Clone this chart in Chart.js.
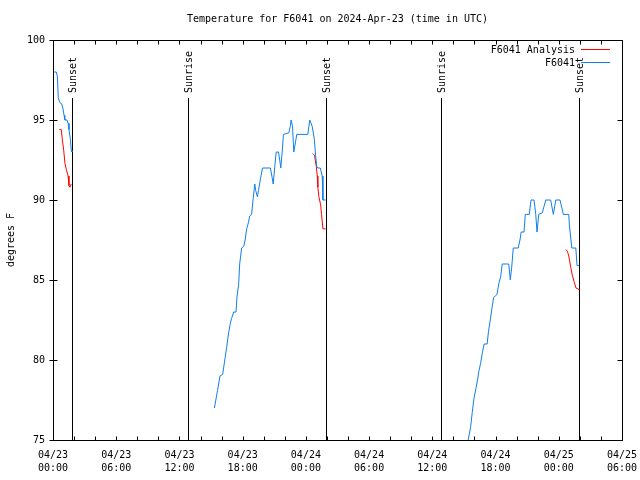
<!DOCTYPE html>
<html>
<head>
<meta charset="utf-8">
<script src="https://cdn.jsdelivr.net/npm/chart.js@4.4.1/dist/chart.umd.min.js"></script>
<style>
  html, body { margin: 0; padding: 0; background: #fff; }
  #wrap { width: 640px; height: 480px; }
</style>
</head>
<body>
<div id="wrap"><canvas id="chart" width="640" height="480"></canvas></div>
<script>
// ---------------- Data ----------------
const START_DAY = 23;   // x axis is hours since 04/23 00:00 UTC
const X_TICKS = ["04/23 00:00", "04/23 06:00", "04/23 12:00", "04/23 18:00", "04/24 00:00",
                 "04/24 06:00", "04/24 12:00", "04/24 18:00", "04/25 00:00", "04/25 06:00"];
const Y_TICKS = [75, 80, 85, 90, 95, 100];

// station observations (null = no data)
const obsTimes = [
  "04/23 00:00", "04/23 00:19", "04/23 00:25", "04/23 00:30", "04/23 00:38", "04/23 00:50",
  "04/23 00:57", "04/23 01:03", "04/23 01:07", "04/23 01:20", "04/23 01:26", "04/23 01:31",
  "04/23 01:39", "04/23 01:44", "04/23 01:48",
  "04/23 08:00",
  "04/23 15:19", "04/23 15:37", "04/23 15:51", "04/23 16:06", "04/23 16:21", "04/23 16:29",
  "04/23 16:40", "04/23 16:50", "04/23 16:57", "04/23 17:09", "04/23 17:22", "04/23 17:28",
  "04/23 17:37", "04/23 17:43", "04/23 17:54", "04/23 18:06", "04/23 18:14", "04/23 18:23",
  "04/23 18:33", "04/23 18:40", "04/23 18:51", "04/23 19:00", "04/23 19:09", "04/23 19:14",
  "04/23 19:24", "04/23 19:30", "04/23 19:41", "04/23 19:53", "04/23 20:38", "04/23 20:48",
  "04/23 20:54", "04/23 21:03", "04/23 21:11", "04/23 21:24", "04/23 21:31", "04/23 21:37",
  "04/23 21:45", "04/23 21:52", "04/23 22:23", "04/23 22:31", "04/23 22:36", "04/23 22:44",
  "04/23 22:51", "04/23 22:59", "04/23 23:08", "04/24 00:11", "04/24 00:22", "04/24 00:36",
  "04/24 00:48", "04/24 00:55", "04/24 01:02", "04/24 01:08", "04/24 01:22", "04/24 01:33",
  "04/24 01:37", "04/24 01:52",
  "04/24 08:00",
  "04/24 15:11", "04/24 15:24", "04/24 15:38", "04/24 15:47", "04/24 15:57", "04/24 16:08",
  "04/24 16:18", "04/24 16:25", "04/24 16:35", "04/24 16:44", "04/24 16:55", "04/24 17:12",
  "04/24 17:20", "04/24 17:30", "04/24 17:39", "04/24 17:49", "04/24 17:58", "04/24 18:08",
  "04/24 18:19", "04/24 18:29", "04/24 18:38", "04/24 19:15", "04/24 19:24", "04/24 19:32",
  "04/24 19:41", "04/24 20:09", "04/24 20:19", "04/24 20:26", "04/24 20:42", "04/24 20:49",
  "04/24 21:12", "04/24 21:22", "04/24 21:39", "04/24 21:49", "04/24 21:56", "04/24 22:06",
  "04/24 22:26", "04/24 22:36", "04/24 22:46", "04/24 23:14", "04/24 23:29", "04/24 23:43",
  "04/25 00:07", "04/25 00:26", "04/25 00:57", "04/25 01:00", "04/25 01:14", "04/25 01:37",
  "04/25 01:44", "04/25 01:57"
];
const obsTemps = [
  98.0, 98.0, 97.7, 96.4, 96.1, 96.0,
  95.7, 95.3, 95.0, 95.0, 94.8, 94.4,
  93.8, 93.1, 93.0,
  null,
  77.0, 78.1, 79.0, 79.1, 80.2, 80.8,
  81.7, 82.3, 82.6, 83.0, 83.0, 84.0,
  84.7, 86.0, 87.0, 87.1, 87.5, 88.2,
  88.6, 89.0, 89.1, 90.1, 91.0, 90.6,
  90.2, 90.6, 91.3, 92.0, 92.0, 91.4,
  91.0, 92.1, 93.0, 93.0, 92.5, 92.0,
  93.0, 94.1, 94.2, 94.6, 95.0, 94.6,
  93.0, 93.5, 94.1, 94.1, 95.0, 94.6,
  93.8, 92.8, 92.1, 92.0, 92.0, 91.5,
  90.0, 90.0,
  null,
  74.2, 75.0, 75.8, 76.7, 77.6, 78.2,
  78.8, 79.3, 79.8, 80.4, 81.0, 81.0,
  81.8, 82.5, 83.2, 83.9, 84.0, 84.1,
  84.8, 85.2, 86.0, 86.0, 85.0, 85.8,
  87.0, 87.0, 87.5, 88.0, 88.0, 89.1,
  89.1, 90.0, 90.0, 89.1, 88.0, 89.1,
  89.2, 89.6, 90.0, 90.0, 89.1, 90.0,
  90.0, 89.1, 89.1, 88.5, 87.0, 87.0,
  85.9, 85.9
];

// analysis values
const anaTimes = [
  "04/23 00:36", "04/23 00:47", "04/23 00:53", "04/23 01:01", "04/23 01:08", "04/23 01:16",
  "04/23 01:26", "04/23 01:31", "04/23 01:37", "04/23 01:44", "04/23 01:48",
  "04/23 08:00",
  "04/24 00:40", "04/24 00:49", "04/24 00:59", "04/24 01:05", "04/24 01:08", "04/24 01:14",
  "04/24 01:24", "04/24 01:29", "04/24 01:37", "04/24 01:52",
  "04/24 08:00",
  "04/25 00:41", "04/25 00:49", "04/25 00:57", "04/25 01:08", "04/25 01:17", "04/25 01:27",
  "04/25 01:38", "04/25 01:57"
];
const anaTemps = [
  94.4, 94.4, 93.8, 93.1, 92.3, 91.9,
  91.5, 90.9, 90.8, 91.0, 91.0,
  null,
  92.9, 92.8, 92.1, 91.5, 90.8, 90.2,
  89.7, 89.1, 88.2, 88.2,
  null,
  86.9, 86.8, 86.5, 85.8, 85.3, 84.9,
  84.5, 84.4
];

const sunTimes = ["04/23 01:48", "04/23 12:50", "04/24 01:53", "04/24 12:48", "04/25 01:57"];
const sunLabels = ["Sunset", "Sunrise", "Sunset", "Sunrise", "Sunset"];

const FONT = "DejaVu Sans Mono";
const RED = "#ff0000";
const BLUE = "#0f7fe8";

// "04/23 01:48" -> hours since 04/23 00:00
function toHours(s) {
  const [md, hm] = s.split(" ");
  const day = Number(md.split("/")[1]);
  const [h, m] = hm.split(":").map(Number);
  return (day - START_DAY) * 24 + h + m / 60;
}
const toPoints = (times, temps) => times.map((t, i) => ({ x: toHours(t), y: temps[i] }));
const xTickHours = X_TICKS.map(toHours);

// ---------------- Frame / ticks / sun lines / legend ----------------
const gnuFrame = {
  id: "gnuFrame",
  beforeDatasetsDraw(chart) {
    const { ctx, chartArea: a, scales: { x } } = chart;
    ctx.save();
    ctx.strokeStyle = "#000";
    ctx.lineWidth = 1;
    ctx.fillStyle = "#000";
    ctx.font = `10px ${FONT}`;
    sunTimes.forEach((t, i) => {
      const px = Math.round(x.getPixelForValue(toHours(t))) + 0.5;
      ctx.beginPath();
      ctx.moveTo(px, 98);
      ctx.lineTo(px, a.bottom);
      ctx.stroke();
      ctx.save();
      ctx.translate(px + 1, 93);
      ctx.rotate(-Math.PI / 2);
      ctx.textAlign = "left";
      ctx.textBaseline = "middle";
      ctx.fillText(sunLabels[i], 0, 0);
      ctx.restore();
    });
    ctx.restore();
  },
  afterDraw(chart) {
    const { ctx, chartArea: a, scales: { x, y } } = chart;
    ctx.save();
    ctx.strokeStyle = "#000";
    ctx.lineWidth = 1;
    const L = Math.round(a.left) + 0.5, R = Math.round(a.right) + 0.5;
    const T = Math.round(a.top) + 0.5, B = Math.round(a.bottom) + 0.5;
    ctx.beginPath();
    // x ticks every 2 h, bottom and top, inward
    for (let h = 0; h <= 54; h += 2) {
      const px = Math.round(x.getPixelForValue(h)) + 0.5;
      ctx.moveTo(px, B); ctx.lineTo(px, B - 4);
      ctx.moveTo(px, T); ctx.lineTo(px, T + 4);
    }
    // y ticks, left and right
    Y_TICKS.forEach(v => {
      const py = Math.round(y.getPixelForValue(v)) + 0.5;
      ctx.moveTo(L - 4, py); ctx.lineTo(L + 4, py);
      ctx.moveTo(R, py); ctx.lineTo(R - 5, py);
    });
    ctx.stroke();
    ctx.strokeRect(L, T, R - L, B - T);

    // legend
    ctx.font = `10px ${FONT}`;
    ctx.fillStyle = "#000";
    ctx.textAlign = "right";
    ctx.textBaseline = "middle";
    [["F6041 Analysis", RED, 50], ["F6041", BLUE, 63]].forEach(([txt, col, ly]) => {
      ctx.fillText(txt, 575, ly);
      ctx.strokeStyle = col;
      ctx.beginPath();
      ctx.moveTo(581, ly - 0.5);
      ctx.lineTo(610, ly - 0.5);
      ctx.stroke();
    });
    ctx.restore();
  }
};

// ---------------- Chart ----------------
new Chart(document.getElementById("chart"), {
  type: "line",
  data: {
    datasets: [
      { label: "F6041", data: toPoints(obsTimes, obsTemps), borderColor: BLUE, borderWidth: 1,
        pointRadius: 0, tension: 0, spanGaps: false },
      { label: "F6041 Analysis", data: toPoints(anaTimes, anaTemps), borderColor: RED, borderWidth: 1,
        pointRadius: 0, tension: 0, spanGaps: false }
    ]
  },
  options: {
    responsive: false,
    animation: false,
    devicePixelRatio: 1,
    layout: { padding: { left: 0, right: 18, top: 0, bottom: 0 } },
    plugins: {
      legend: { display: false },
      tooltip: { enabled: false },
      title: {
        display: true,
        fullSize: false,
        text: "Temperature for F6041 on 2024-Apr-23 (time in UTC)",
        color: "#000",
        font: { family: FONT, size: 10, weight: "normal", lineHeight: 1.2 },
        padding: { top: 13, bottom: 15 }
      }
    },
    scales: {
      x: {
        type: "linear",
        min: 0, max: 54,
        grid: { display: false, drawTicks: false },
        border: { display: false },
        afterBuildTicks: s => { s.ticks = xTickHours.map(v => ({ value: v })); },
        afterFit: s => { s.height = 40; s.paddingLeft = 0; s.paddingRight = 0; },
        ticks: {
          color: "#000",
          autoSkip: false,
          maxRotation: 0,
          padding: 9,
          font: { family: FONT, size: 10, lineHeight: 1.3 },
          callback: (v) => {
            const i = xTickHours.indexOf(v);
            return i < 0 ? "" : X_TICKS[i].split(" ");
          }
        }
      },
      y: {
        min: 75, max: 100,
        grid: { display: false, drawTicks: false },
        border: { display: false },
        afterBuildTicks: s => { s.ticks = Y_TICKS.map(v => ({ value: v })); },
        afterFit: s => { s.width = 53; s.paddingTop = 0; s.paddingBottom = 0; },
        ticks: { color: "#000", padding: 8, font: { family: FONT, size: 10 } },
        title: {
          display: true,
          text: "degrees F",
          color: "#000",
          font: { family: FONT, size: 10, lineHeight: 1.2 },
          padding: { top: 5, bottom: 0 }
        }
      }
    }
  },
  plugins: [gnuFrame]
});
</script>
</body>
</html>
